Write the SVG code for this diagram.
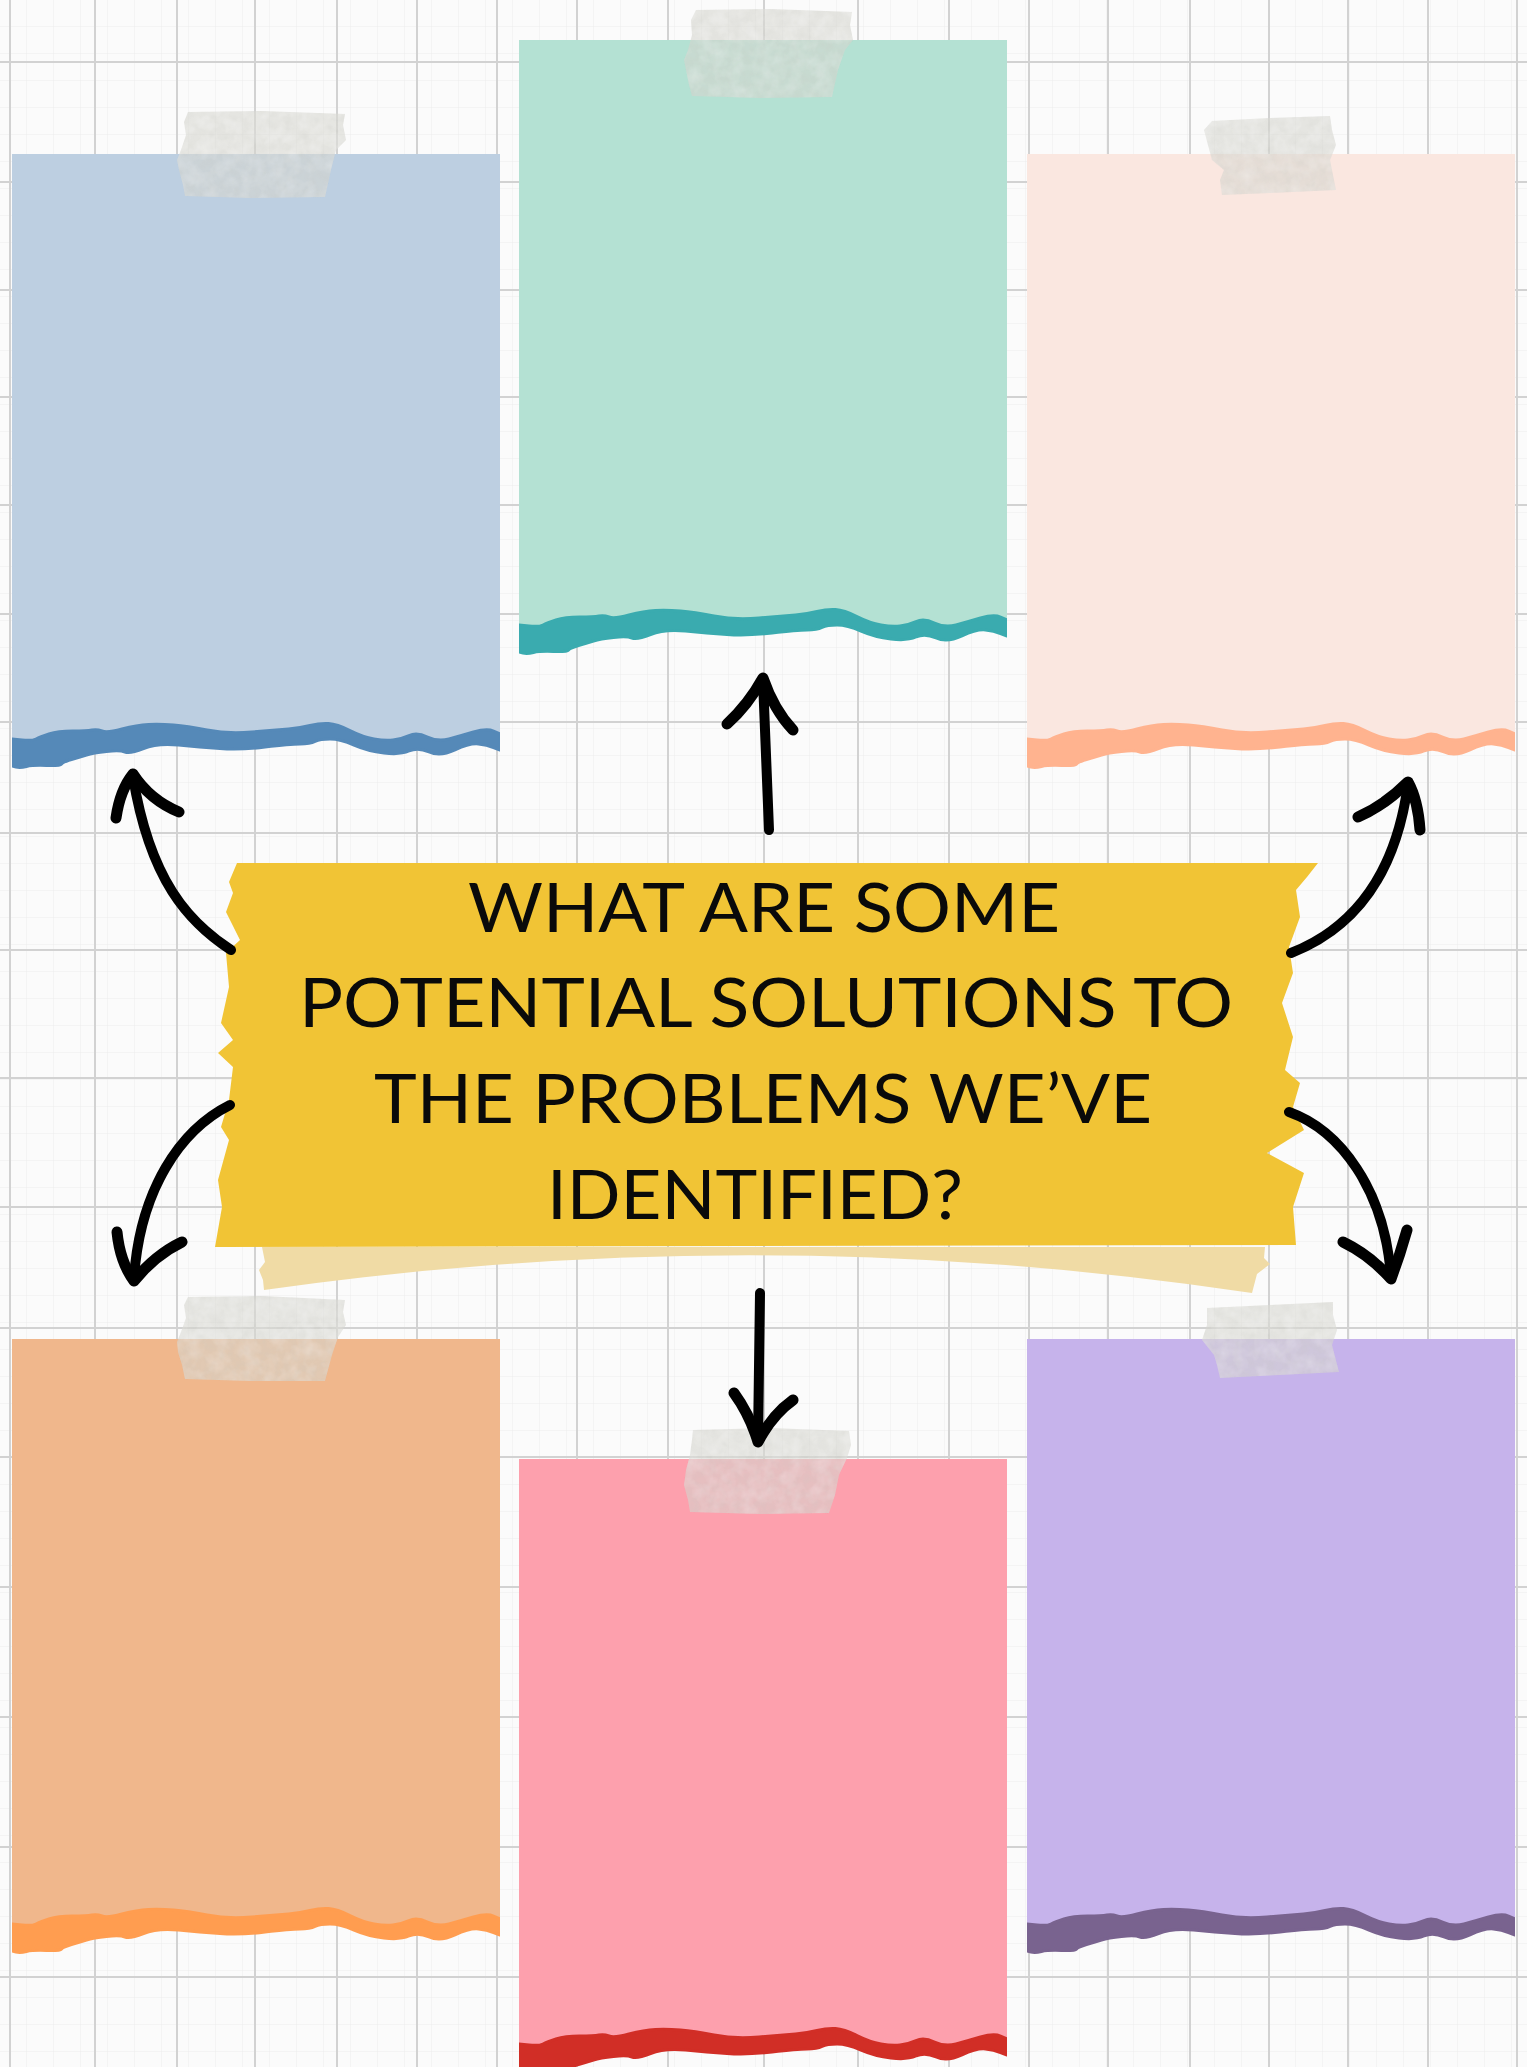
<svg xmlns="http://www.w3.org/2000/svg" xmlns:xlink="http://www.w3.org/1999/xlink" width="1527" height="2067" viewBox="0 0 1527 2067">
  <style>
    .grid-major { stroke: #d2d2d2; stroke-width: 2; fill: none; }
    .tape { fill: #d5d6cf; opacity: 0.58; }
    .band { stroke-width: 3; stroke-linejoin: round; }
    .arrow { fill: none; stroke: #000; stroke-width: 10; stroke-linecap: round; stroke-linejoin: round; }
    .head { fill: none; stroke: #000; stroke-width: 11; stroke-linecap: round; stroke-linejoin: round; }
    .title { font-family: Lato, "Liberation Sans", sans-serif; font-size: 67px; fill: #0a0a0a; text-anchor: middle; }
  </style>
  <defs>
    <pattern id="minor" width="27" height="27" patternUnits="userSpaceOnUse">
      <path d="M27 0 V27 M0 27 H27" stroke="#ededed" stroke-width="1" fill="none"/>
    </pattern>
    <!-- paper-tape mottling: soft light and dark blotches kept inside the strip -->
    <filter id="mottle" x="0" y="0" width="1" height="1">
      <feTurbulence type="fractalNoise" baseFrequency="0.07" numOctaves="3" seed="7" result="n1"/>
      <feColorMatrix in="n1" type="matrix" values="0 0 0 0 1  0 0 0 0 1  0 0 0 0 1  0 0 0 0.7 -0.25" result="light"/>
      <feComposite in="light" in2="SourceGraphic" operator="in" result="lightIn"/>
      <feTurbulence type="fractalNoise" baseFrequency="0.12" numOctaves="2" seed="3" result="n2"/>
      <feColorMatrix in="n2" type="matrix" values="0 0 0 0 0.55  0 0 0 0 0.56  0 0 0 0 0.52  0 0 0 0.6 -0.22" result="dark"/>
      <feComposite in="dark" in2="SourceGraphic" operator="in" result="darkIn"/>
      <feMerge><feMergeNode in="SourceGraphic"/><feMergeNode in="darkIn"/><feMergeNode in="lightIn"/></feMerge>
    </filter>
    <clipPath id="sheetClip"><rect x="0" y="0" width="488" height="640"/></clipPath>
    <!-- sheet body with torn bottom, and its coloured edge strip -->
    <path id="body" d="M0 0 H488 V596 L481.5 593.5 Q475 591 466.5 590 Q458 589 443 596 Q428 603 417 598 Q406 593 397 597 Q388 601 372 599 Q356 597 342 591 Q328 585 318 585 Q308 585 303 587.5 Q298 590 288 590 Q278 590 253 593 Q228 596 208 594.5 Q188 593 166.5 591 Q145 589 131.5 594.5 Q118 600 113 598 Q108 596 94.5 597.5 Q81 599 74.5 601 Q68 603 59.5 605.5 Q51 608 49.5 610 Q48 612 34.5 611.5 Q21 611 14.5 612.5 Q8 614 4 613 L0 612 Z"/>
    <path id="band" d="M0 585 L10 586 Q20 587 24 585 Q28 583 37 580 Q46 577 60.5 577 Q75 577 80 576 Q85 575 90 577 Q95 579 110 575 Q125 571 136.5 570.5 Q148 570 161.5 571 Q175 572 195 576 Q215 580 240 578 Q265 576 276.5 575 Q288 574 298 571.5 Q308 569 316.5 569.5 Q325 570 338 576.5 Q351 583 362 585 Q373 587 381 586 Q389 585 397 581.5 Q405 578 415.5 583 Q426 588 437 585 Q448 582 461.5 578 Q475 574 481.5 577 L488 580 L488 596 L481.5 593.5 Q475 591 466.5 590 Q458 589 443 596 Q428 603 417 598 Q406 593 397 597 Q388 601 372 599 Q356 597 342 591 Q328 585 318 585 Q308 585 303 587.5 Q298 590 288 590 Q278 590 253 593 Q228 596 208 594.5 Q188 593 166.5 591 Q145 589 131.5 594.5 Q118 600 113 598 Q108 596 94.5 597.5 Q81 599 74.5 601 Q68 603 59.5 605.5 Q51 608 49.5 610 Q48 612 34.5 611.5 Q21 611 14.5 612.5 Q8 614 4 613 L0 612 Z"/>
  </defs>

  <!-- graph paper background -->
  <rect width="1527" height="2067" fill="#fbfbfb"/>
  <rect width="1527" height="2067" fill="url(#minor)"/>
  <g class="grid-major">
    <path d="M10 0 V2067 M95 0 V2067 M177 0 V2067 M255 0 V2067 M337 0 V2067 M417 0 V2067 M497 0 V2067 M577 0 V2067 M668 0 V2067 M764 0 V2067 M858 0 V2067 M949 0 V2067 M1029 0 V2067 M1108 0 V2067 M1190 0 V2067 M1269 0 V2067 M1348 0 V2067 M1428 0 V2067 M1517 0 V2067"/>
    <path d="M0 62 H1527 M0 182 H1527 M0 290 H1527 M0 397 H1527 M0 505 H1527 M0 614 H1527 M0 722 H1527 M0 833 H1527 M0 950 H1527 M0 1078 H1527 M0 1207 H1527 M0 1328 H1527 M0 1457 H1527 M0 1587 H1527 M0 1717 H1527 M0 1847 H1527 M0 1977 H1527"/>
  </g>

  <!-- sheets -->
  <g id="note-blue" transform="translate(12 154)" clip-path="url(#sheetClip)">
    <use href="#body" fill="#bdcfe1"/>
    <use href="#band" class="band" fill="#5589b8" stroke="#5589b8"/>
  </g>
  <g id="note-teal" transform="translate(519 40)" clip-path="url(#sheetClip)">
    <use href="#body" fill="#b4e1d3"/>
    <use href="#band" class="band" fill="#3aabaf" stroke="#3aabaf"/>
  </g>
  <g id="note-peach" transform="translate(1027 154)" clip-path="url(#sheetClip)">
    <use href="#body" fill="#fae7e0"/>
    <use href="#band" class="band" fill="#ffb38f" stroke="#ffb38f"/>
  </g>
  <g id="note-orange" transform="translate(12 1339)" clip-path="url(#sheetClip)">
    <use href="#body" fill="#f0b78c"/>
    <use href="#band" class="band" fill="#ff9d50" stroke="#ff9d50"/>
  </g>
  <g id="note-pink" transform="translate(519 1459)" clip-path="url(#sheetClip)">
    <use href="#body" fill="#fda0ad"/>
    <use href="#band" class="band" fill="#d12e26" stroke="#d12e26"/>
  </g>
  <g id="note-purple" transform="translate(1027 1339)" clip-path="url(#sheetClip)">
    <use href="#body" fill="#c6b3eb"/>
    <use href="#band" class="band" fill="#79638f" stroke="#79638f"/>
  </g>

  <!-- masking tape strips -->
  <g id="tapes" filter="url(#mottle)">
    <polygon class="tape" points="188,112 262,111 345,114 343,125 346,140 336,150 331,170 325,197 250,198 185,196 183,185 179,170 177,160 181,150 186,135 184,122"/>
    <polygon class="tape" points="696,10 770,9 852,12 850,25 853,40 845,50 838,70 832,97 760,98 692,96 689,85 686,70 684,60 688,50 692,35 691,20"/>
    <polygon class="tape" points="1212,121 1270,118 1330,116 1332,130 1336,145 1330,160 1336,190 1270,193 1222,195 1220,180 1224,170 1212,160 1208,145 1204,130"/>
    <polygon class="tape" points="188,1297 262,1296 345,1300 343,1312 346,1325 338,1337 332,1355 325,1381 250,1381 185,1379 182,1365 178,1352 177,1342 181,1332 186,1318 184,1305"/>
    <polygon class="tape" points="693,1430 770,1428 849,1431 851,1445 847,1458 839,1475 835,1495 829,1513 760,1514 690,1512 688,1500 684,1485 686,1470 690,1455 692,1440"/>
    <polygon class="tape" points="1207,1308 1270,1305 1333,1302 1333,1315 1337,1330 1332,1345 1339,1372 1280,1375 1220,1378 1217,1365 1214,1355 1202,1340 1207,1325"/>
  </g>

  <!-- central question banner -->
  <g id="banner">
    <path fill="#f0dba5" d="M262 1247 L1265 1247 L1264 1258 L1270 1264 L1257 1274 L1252 1293 Q760 1219 264 1290 L263 1280 L259 1270 L265 1262 Z"/>
    <path fill="#f1c435" d="M237 863 L1318 863 L1307 877 L1296 890 L1300 917 L1289 947 L1293 973 L1282 1003 L1293 1037 L1285 1070 L1300 1083 L1293 1107 L1304 1130 L1267 1153 L1304 1173 L1293 1207 L1296 1245 L215 1247 L222 1207 L218 1180 L229 1140 L221 1127 L229 1100 L233 1067 L218 1053 L233 1040 L221 1023 L229 987 L226 953 L240 940 L226 912 L233 893 L229 882 Z"/>
    <text class="title" x="764" y="932" textLength="592" lengthAdjust="spacingAndGlyphs">WHAT ARE SOME</text>
    <text class="title" x="766" y="1027" textLength="934" lengthAdjust="spacingAndGlyphs">POTENTIAL SOLUTIONS TO</text>
    <text class="title" x="763" y="1123" textLength="778" lengthAdjust="spacingAndGlyphs">THE PROBLEMS WE’VE</text>
    <text class="title" x="755" y="1219" textLength="416" lengthAdjust="spacingAndGlyphs">IDENTIFIED?</text>
  </g>

  <!-- hand-drawn arrows from the banner to each sheet -->
  <g id="connectors">
    <path class="arrow" d="M231 950 C188 922 150 880 133 777"/>
    <path class="head" d="M116 818 Q120 790 133 774 Q150 800 179 812"/>
    <path class="arrow" d="M769 830 L763 680"/>
    <path class="head" d="M727 724 Q748 705 763 678 Q774 710 793 730"/>
    <path class="arrow" d="M1291 953 C1350 930 1395 880 1408 784"/>
    <path class="head" d="M1358 817 Q1385 805 1408 782 Q1418 800 1420 830"/>
    <path class="arrow" d="M230 1105 C180 1130 140 1190 134 1278"/>
    <path class="head" d="M117 1232 Q120 1262 134 1281 Q155 1255 182 1242"/>
    <path class="arrow" d="M760 1293 L758 1440"/>
    <path class="head" d="M734 1393 Q750 1415 758 1442 Q772 1415 793 1400"/>
    <path class="arrow" d="M1289 1112 C1340 1130 1385 1190 1391 1277"/>
    <path class="head" d="M1343 1242 Q1370 1255 1391 1279 Q1400 1255 1407 1230"/>
  </g>
</svg>
